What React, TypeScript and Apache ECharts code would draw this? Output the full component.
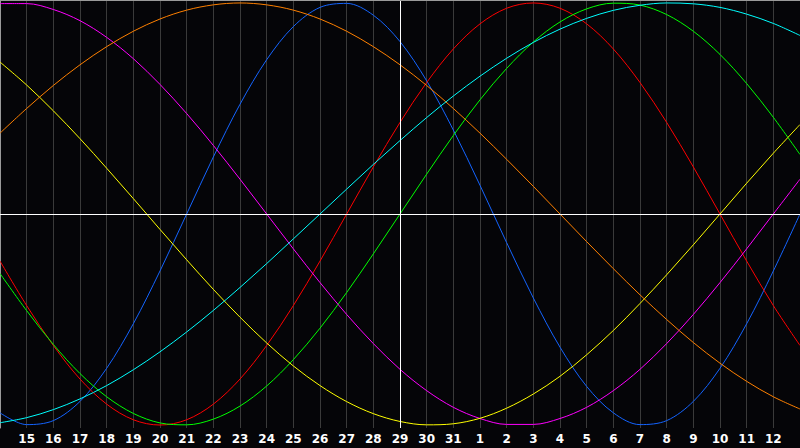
import React, { useEffect, useRef } from "react";
import * as echarts from "echarts";

// Day labels along the x axis (one per gridline)
const days = [
  "14", "15", "16", "17", "18", "19", "20", "21", "22", "23", "24", "25", "26", "27", "28",
  "29", "30", "31", "1", "2", "3", "4", "5", "6", "7", "8", "9", "10", "11", "12", "13",
];
const centerDay = "29";

// Cycle values (percent) read at each day
const physical = [
  -94.2, -99.8, -97.9, -88.8, -73.1, -52.0, -27.0, 0, 27.0, 52.0, 73.1, 88.8, 97.9, 99.8, 94.2, 81.7,
  63.1, 39.8, 13.6, -13.6, -39.8, -63.1, -81.7, -94.2, -99.8, -97.9, -88.8, -73.1, -52.0, -27.0, 0,
];
const emotional = [
  -22.3, -43.4, -62.3, -78.2, -90.1, -97.5, -100, -97.5, -90.1, -78.2, -62.3, -43.4, -22.3, 0, 22.3, 43.4,
  62.3, 78.2, 90.1, 97.5, 100, 97.5, 90.1, 78.2, 62.3, 43.4, 22.3, 0, -22.3, -43.4, -62.3,
];
const intellectual = [
  -28.2, -45.8, -61.8, -75.6, -86.6, -94.5, -99.0, -99.9, -97.2, -91.0, -81.5, -69.0, -54.1, -37.2, -18.9, 0,
  18.9, 37.2, 54.1, 69.0, 81.5, 91.0, 97.2, 99.9, 99.0, 94.5, 86.6, 75.6, 61.8, 45.8, 28.2,
];
const intuitive = [
  99.7, 99.7, 96.9, 91.6, 83.7, 73.6, 61.4, 47.6, 32.5, 16.5, 0, -16.5, -32.5, -47.6, -61.4, -73.6,
  -83.7, -91.6, -96.9, -99.7, -99.7, -96.9, -91.6, -83.7, -73.6, -61.4, -47.6, -32.5, -16.5, 0, 16.5,
];
const aesthetic = [
  72.0, 61.1, 48.9, 35.7, 21.7, 7.3, -7.3, -21.7, -35.7, -48.9, -61.1, -72.0, -81.3, -88.9, -94.6, -98.3,
  -99.9, -99.4, -96.8, -92.0, -85.3, -76.9, -66.7, -55.2, -42.4, -28.8, -14.6, 0, 14.6, 28.8, 42.4,
];
const awareness = [
  38.3, 50.0, 60.9, 70.7, 79.3, 86.6, 92.4, 96.6, 99.1, 100, 99.1, 96.6, 92.4, 86.6, 79.3, 70.7,
  60.9, 50.0, 38.3, 25.9, 13.1, 0, -13.1, -25.9, -38.3, -50.0, -60.9, -70.7, -79.3, -86.6, -92.4,
];
const spiritual = [
  -98.9, -96.5, -92.7, -87.6, -81.3, -73.8, -65.3, -55.9, -45.7, -34.8, -23.5, -11.8, 0, 11.8, 23.5, 34.8,
  45.7, 55.9, 65.3, 73.8, 81.3, 87.6, 92.7, 96.5, 98.9, 100.0, 99.6, 97.9, 94.7, 90.3, 84.6,
];

const seriesDefs: { name: string; data: number[]; color: string }[] = [
  { name: "Physical", data: physical, color: "#1464ff" },
  { name: "Emotional", data: emotional, color: "#ff0000" },
  { name: "Intellectual", data: intellectual, color: "#00ff00" },
  { name: "Intuitive", data: intuitive, color: "#ff00ff" },
  { name: "Aesthetic", data: aesthetic, color: "#ffff00" },
  { name: "Awareness", data: awareness, color: "#ff8000" },
  { name: "Spiritual", data: spiritual, color: "#00ffff" },
];

export default function App() {
  const ref = useRef<HTMLDivElement>(null);

  useEffect(() => {
    if (!ref.current) return;
    const chart = echarts.init(ref.current, undefined, { renderer: "svg" });
    const series: any[] = seriesDefs.map((s) => ({
      name: s.name,
      type: "line",
      data: s.data,
      smooth: 0.333,
      showSymbol: false,
      symbol: "none",
      lineStyle: { color: s.color, width: 1 },
      itemStyle: { color: s.color },
      silent: true,
      z: 2,
    }));
    series.push({
      name: "ref",
      type: "line",
      data: [],
      silent: true,
      z: 3,
      markLine: {
        silent: true,
        symbol: ["none", "none"],
        label: { show: false },
        lineStyle: { color: "#ffffff", width: 1, type: "solid" },
        data: [{ xAxis: centerDay }, { yAxis: 0 }],
      },
    });

    chart.setOption({
      animation: false,
      backgroundColor: "#050508",
      grid: { left: 0, right: 0, top: 0, bottom: 20, containLabel: false },
      xAxis: {
        type: "category",
        data: days,
        boundaryGap: false,
        axisLine: { show: true, lineStyle: { color: "#9a9a9a", width: 1 } },
        axisTick: { show: false },
        axisLabel: {
          color: "#ffffff",
          fontWeight: "bold",
          fontSize: 12,
          fontFamily: "DejaVu Sans",
          margin: 5,
          interval: (index: number) => index !== 0 && index !== days.length - 1,
        },
        splitLine: { show: true, interval: 0, lineStyle: { color: "#3a3a3a", width: 1 } },
      },
      yAxis: {
        type: "value",
        min: -101.4,
        max: 101.4,
        axisLine: { show: true, lineStyle: { color: "#9a9a9a", width: 1 } },
        axisTick: { show: false },
        axisLabel: { show: false },
        splitLine: { show: false },
      },
      graphic: [
        {
          type: "line",
          shape: { x1: 0, y1: 0.5, x2: 800, y2: 0.5 },
          style: { stroke: "#9a9a9a", lineWidth: 1 },
          silent: true,
          z: 10,
        },
      ],
      series,
    });
    return () => chart.dispose();
  }, []);

  return (
    <div
      ref={ref}
      style={{ position: "fixed", left: 0, top: 0, width: 800, height: 448 }}
    />
  );
}
